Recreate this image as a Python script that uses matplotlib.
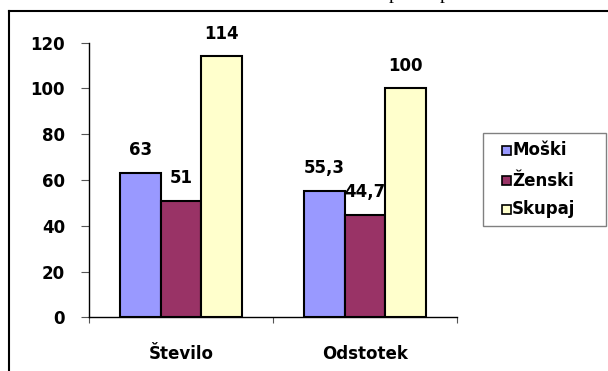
import matplotlib
matplotlib.use("Agg")
import matplotlib.pyplot as plt
from matplotlib.lines import Line2D
from matplotlib.patches import Rectangle
import numpy as np

plt.rcParams['font.family'] = ['DejaVu Sans']
plt.rcParams['font.weight'] = 'bold'

categories = ['Število', 'Odstotek']
series_names = ['Moški', 'Ženski', 'Skupaj']
moski = [63, 55.3]
zenski = [51, 44.7]
skupaj = [114, 100]
y_ticks = [0, 20, 40, 60, 80, 100, 120]

colors = ['#9999FF', '#993366', '#FFFFCC']

W, H = 608, 371
fig = plt.figure(figsize=(W / 100, H / 100), dpi=100)


def fx(x):
    return x / W


def fy(y):
    return 1 - y / H


# plot area
ax = fig.add_axes([fx(89), fy(317.3), (457 - 89) / W, (317.3 - 42.7) / H])

x = np.arange(len(categories))
bw = 1 / 4.5
for i, (vals, col) in enumerate(zip([moski, zenski, skupaj], colors)):
    pos = x + (i - 1) * bw
    ax.bar(pos, vals, width=bw, color=col, edgecolor='black', linewidth=1.5,
           zorder=3)
    for px_, v in zip(pos, vals):
        txt = f"{v:g}".replace('.', ',')
        ax.annotate(txt, (px_, v), xytext=(0, 16.5), textcoords='offset points',
                    ha='center', va='center', fontsize=12, fontweight='bold',
                    zorder=4)

ax.set_xlim(-0.5, len(categories) - 0.5)
ax.set_ylim(0, 120)
ax.set_yticks(y_ticks)
ax.set_yticklabels([str(t) for t in y_ticks], fontsize=12, fontweight='bold')
ax.tick_params(axis='y', length=5.8, width=0.8, color='#555555', pad=11.5)

ax.set_xticks(x)
ax.set_xticklabels(categories, fontsize=12, fontweight='bold')
ax.set_xticks(np.arange(-0.5, len(categories), 1.0), minor=True)
ax.tick_params(axis='x', which='major', length=0, pad=20)
ax.tick_params(axis='x', which='minor', length=4.3, width=0.8, color='#555555')

for s in ['top', 'right']:
    ax.spines[s].set_visible(False)
for s in ['left', 'bottom']:
    ax.spines[s].set_linewidth(1.0)
    ax.spines[s].set_color('black')

# legend box
fig.add_artist(Rectangle((fx(483), fy(226)), (606 - 483) / W, (226 - 133) / H,
                         transform=fig.transFigure, facecolor='white',
                         edgecolor='#808080', linewidth=1.0))
for name, col, yc in zip(series_names, colors, [150, 180.7, 209.3]):
    fig.add_artist(Rectangle((fx(501.5), fy(yc + 4.5)), 9 / W, 9 / H,
                             transform=fig.transFigure, facecolor=col,
                             edgecolor='black', linewidth=1.2))
    fig.text(fx(512), fy(yc), name, fontsize=12, fontweight='bold',
             ha='left', va='center')

# frame around the chart
fig.add_artist(Line2D([fx(9), fx(9)], [fy(11), 0], transform=fig.transFigure,
                      color='black', linewidth=1.5))
fig.add_artist(Line2D([fx(9), 1], [fy(11), fy(11)], transform=fig.transFigure,
                      color='black', linewidth=1.5))

# descenders of the line of text above the chart
for xp in [393, 444]:
    fig.text(fx(xp), fy(-0.8), 'p', fontsize=14, family='Liberation Serif',
             fontweight='normal', ha='center', va='baseline')

fig.savefig('out.png', dpi=100)
